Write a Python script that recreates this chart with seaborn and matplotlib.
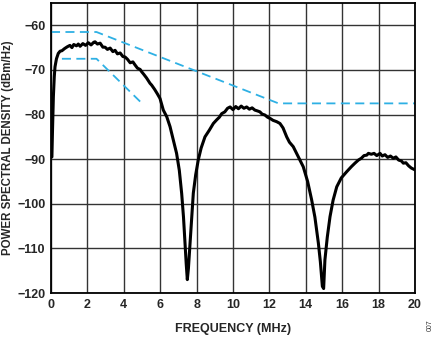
import matplotlib
matplotlib.use("Agg")
import matplotlib.pyplot as plt
import seaborn as sns
import pandas as pd

# Measured PSD curve (MHz, dBm/Hz)
freq = [0.05, 0.08, 0.13, 0.18, 0.22, 0.3, 0.4, 0.5, 0.6, 0.75, 0.9, 1.04, 1.15, 1.25, 1.4, 1.5, 1.6,
        1.75, 1.9, 2.05, 2.2, 2.35, 2.42, 2.55, 2.7, 2.85, 2.97, 3.1, 3.25, 3.4, 3.52, 3.65, 3.8, 3.95,
        4.07, 4.2, 4.35, 4.5, 4.62, 4.75, 4.9, 4.98, 5.1, 5.25, 5.44, 5.53, 5.7, 5.85, 5.99, 6.17, 6.36,
        6.54, 6.72, 6.9, 7.05, 7.18, 7.28, 7.36, 7.43, 7.49, 7.55, 7.64, 7.73, 7.82, 7.95, 8.09, 8.25,
        8.46, 8.7, 8.92, 9.1, 9.25, 9.38, 9.55, 9.7, 9.84, 10.0, 10.15, 10.3, 10.45, 10.6, 10.75, 10.9,
        11.05, 11.2, 11.35, 11.48, 11.6, 11.75, 11.9, 12.05, 12.2, 12.4, 12.58, 12.75, 12.95, 13.1,
        13.31, 13.59, 13.86, 14.1, 14.32, 14.5, 14.69, 14.8, 14.91, 14.98, 15.05, 15.18, 15.33, 15.5,
        15.7, 15.95, 16.25, 16.5, 16.7, 16.89, 17.05, 17.2, 17.35, 17.44, 17.6, 17.75, 17.9, 18.08,
        18.2, 18.35, 18.5, 18.65, 18.81, 18.95, 19.1, 19.25, 19.36, 19.5, 19.65, 19.8, 20.0]
psd = [-89.5, -84.0, -76.0, -71.5, -69.3, -67.5, -66.3, -65.8, -65.7, -65.2, -64.8, -64.5, -65.0,
       -64.3, -64.6, -64.2, -64.7, -64.1, -64.5, -63.9, -64.4, -63.8, -63.7, -64.2, -64.0, -64.9,
       -64.9, -65.4, -65.1, -65.9, -65.6, -66.4, -66.2, -67.0, -67.1, -67.6, -68.4, -68.2, -68.9,
       -69.6, -69.9, -70.4, -71.0, -71.8, -73.0, -73.4, -74.4, -75.4, -76.4, -79.0, -80.5, -82.7,
       -85.7, -88.7, -92.5, -97.7, -103.0, -108.8, -113.5, -117.0, -114.5, -108.8, -103.0, -97.6,
       -93.5, -90.2, -87.5, -85.0, -83.5, -82.0, -81.2, -80.6, -79.8, -79.4, -78.6, -78.3, -78.9,
       -78.2, -78.7, -78.1, -78.6, -78.3, -78.8, -78.5, -79.0, -79.2, -79.4, -79.9, -80.1, -80.6,
       -80.9, -81.3, -81.6, -82.0, -83.0, -85.0, -86.2, -87.2, -89.5, -91.7, -95.0, -99.1, -103.0,
       -108.8, -113.0, -118.5, -119.0, -112.6, -107.5, -102.9, -99.2, -96.2, -94.2, -92.8, -91.7,
       -90.9, -90.2, -89.8, -89.2, -89.1, -88.7, -88.9, -88.7, -89.2, -88.7, -89.3, -89.0, -89.6,
       -89.3, -89.8, -89.5, -90.2, -90.4, -90.9, -90.8, -91.5, -92.0, -92.4]

# Spectral masks
mask_hi_x = [0.0, 2.5, 12.5, 20.0]
mask_hi_y = [-61.5, -61.5, -77.5, -77.5]
mask_lo_x = [0.6, 2.5, 5.0]
mask_lo_y = [-67.5, -67.5, -77.5]

x_ticks = [0, 2, 4, 6, 8, 10, 12, 14, 16, 18, 20]
y_ticks = [-120, -110, -100, -90, -80, -70, -60]

sns.set_style("white")
plt.rcParams["font.family"] = ["Liberation Sans", "DejaVu Sans"]

fig = plt.figure(figsize=(4.35, 3.38), dpi=100)
ax = fig.add_axes([51 / 435, 45 / 338, 364 / 435, 290 / 338])

blue = "#2EB0E4"
sns.lineplot(x=mask_hi_x, y=mask_hi_y, ax=ax, color=blue, lw=1.3,
             linestyle=(0, (5, 3)), sort=False)
sns.lineplot(x=mask_lo_x, y=mask_lo_y, ax=ax, color=blue, lw=1.3,
             linestyle=(0, (5, 3)), sort=False)
sns.lineplot(data=pd.DataFrame({"f": freq, "p": psd}), x="f", y="p", ax=ax,
             color="black", lw=2.2, sort=False)

ax.set_xlim(0, 20)
ax.set_ylim(-120, -55)
ax.set_xticks(x_ticks)
ax.set_yticks(y_ticks)
ax.set_yticklabels([f"\u2212{abs(v)}" for v in y_ticks])
ax.grid(True, color="#333333", lw=1.0)
ax.set_axisbelow(True)
for s in ax.spines.values():
    s.set_color("black")
    s.set_linewidth(1.3)
ax.tick_params(axis="both", length=0, pad=4, labelsize=9)
for lab in ax.get_xticklabels() + ax.get_yticklabels():
    lab.set_fontweight("bold")

ax.set_xlabel("FREQUENCY (MHz)", fontsize=9, fontweight="bold", labelpad=9)
ax.set_ylabel("POWER SPECTRAL DENSITY (dBm/Hz)", fontsize=8.3, fontweight="bold")
ax.yaxis.set_label_coords(-0.102, 0.5)

fig.text(430 / 435, 13 / 338, "007", rotation=90, fontsize=5, color="#333333",
         ha="center", va="center")

fig.savefig("out.png", dpi=100)
